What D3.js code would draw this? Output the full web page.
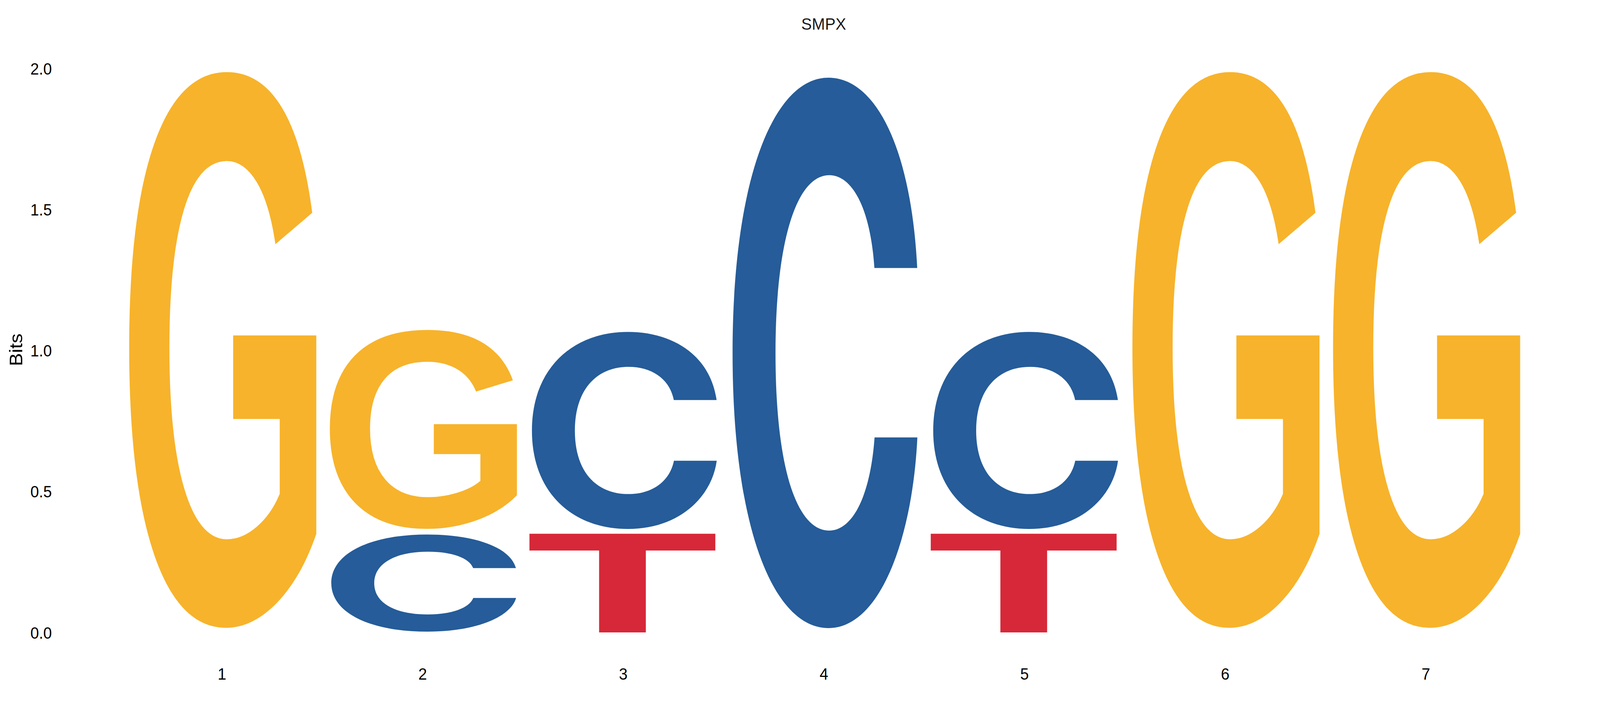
<!DOCTYPE html>
<html>
<head>
<meta charset="utf-8">
<script src="https://cdn.jsdelivr.net/npm/d3@7"></script>
<style>
  html, body { margin: 0; padding: 0; background: #ffffff; overflow: hidden; }
  svg { display: block; width: 100vw; height: 100vh; }
</style>
</head>
<body>
<div id="logo"></div>
<script>
/* sequence logo values */
const positions = [1, 2, 3, 4, 5, 6, 7];
const stackLetters = [["G"], ["C", "G"], ["T", "C"], ["C"], ["T", "C"], ["G"], ["G"]];
const stackBits = [[2.0], [0.353, 0.716], [0.353, 0.716], [2.0], [0.353, 0.716], [2.0], [2.0]];
const yTicks = [0.0, 0.5, 1.0, 1.5, 2.0];
const letterColours = { A: "#109648", C: "#255C99", G: "#F7B32B", T: "#D62839" };

document.addEventListener("DOMContentLoaded", function () {

  const width = 4350;
  const height = 1829;
  const colWidth = 0.95;   // share of one position a letter fills
  const gapPx = 6;         // small white gap between stacked letters
  // G with a spur from Liberation, C/T with flat terminals from Inter
  const glyphFonts = { A: "Inter", C: "Inter", G: "Liberation Sans", T: "Inter" };
  const textFont = "'Liberation Sans', Arial, sans-serif";

  const svg = d3.select("#logo")
    .append("svg")
    .attr("viewBox", "0 0 " + width + " " + height)
    .attr("preserveAspectRatio", "none");

  const x = d3.scaleLinear().domain([1, 7]).range([603, 3876]);
  const y = d3.scaleLinear().domain([0, 2]).range([1620, 175]);

  /* tight glyph bounds from a canvas, so a letter can be stretched to its box */
  const ctx = document.createElement("canvas").getContext("2d");
  const glyphBox = {};
  ["A", "C", "G", "T"].forEach(function (l) {
    ctx.font = "bold 1000px '" + glyphFonts[l] + "'";
    const m = ctx.measureText(l);
    glyphBox[l] = {
      left: m.actualBoundingBoxLeft,
      w: m.actualBoundingBoxLeft + m.actualBoundingBoxRight,
      asc: m.actualBoundingBoxAscent,
      h: m.actualBoundingBoxAscent + m.actualBoundingBoxDescent
    };
  });

  /* flatten stacks into letter boxes */
  const letters = [];
  positions.forEach(function (p, i) {
    let base = 0;
    stackLetters[i].forEach(function (l, j) {
      const bits = stackBits[i][j];
      letters.push({ pos: p, letter: l, y0: base, y1: base + bits, level: j });
      base += bits;
    });
  });

  const bw = x(1 + colWidth / 2) - x(1 - colWidth / 2);

  svg.append("g")
    .selectAll("text")
    .data(letters)
    .join("text")
    .attr("x", 0)
    .attr("y", 0)
    .style("font-family", d => "'" + glyphFonts[d.letter] + "'")
    .style("font-size", "1000px")
    .style("font-weight", "bold")
    .attr("fill", d => letterColours[d.letter])
    .attr("transform", function (d) {
      const g = glyphBox[d.letter];
      const shift = d.level > 0 ? gapPx : 0;
      const top = y(d.y1) - shift;
      const bottom = y(d.y0) - shift;
      const x0 = x(d.pos) - bw / 2;
      const sx = bw / g.w;
      const sy = (bottom - top) / g.h;
      return "translate(" + x0 + "," + top + ") scale(" + sx + "," + sy + ") translate(" + g.left + "," + g.asc + ")";
    })
    .text(d => d.letter);

  /* y axis */
  const yAxis = svg.append("g")
    .attr("transform", "translate(141,0)")
    .call(d3.axisLeft(y).tickValues(yTicks).tickFormat(d3.format(".1f")).tickSize(0).tickPadding(0));
  yAxis.select(".domain").remove();
  yAxis.selectAll("text")
    .style("font-family", textFont)
    .style("font-size", "42px")
    .attr("fill", "#000000")
    .attr("dy", "0.36em");

  /* x axis */
  const xAxis = svg.append("g")
    .attr("transform", "translate(0,1711)")
    .call(d3.axisBottom(x).tickValues(positions).tickFormat(d3.format("d")).tickSize(0).tickPadding(0));
  xAxis.select(".domain").remove();
  xAxis.selectAll("text")
    .style("font-family", textFont)
    .style("font-size", "42px")
    .attr("fill", "#000000");

  /* axis title */
  svg.append("text")
    .text("Bits")
    .attr("transform", "translate(61,896) rotate(-90)")
    .attr("text-anchor", "middle")
    .style("font-family", textFont)
    .style("font-size", "50px")
    .attr("fill", "#000000");

  /* plot title */
  svg.append("text")
    .text("SMPX")
    .attr("x", x(4))
    .attr("y", 76)
    .attr("text-anchor", "middle")
    .style("font-family", textFont)
    .style("font-size", "43px")
    .attr("fill", "#1a1a1a");
});
</script>
</body>
</html>
